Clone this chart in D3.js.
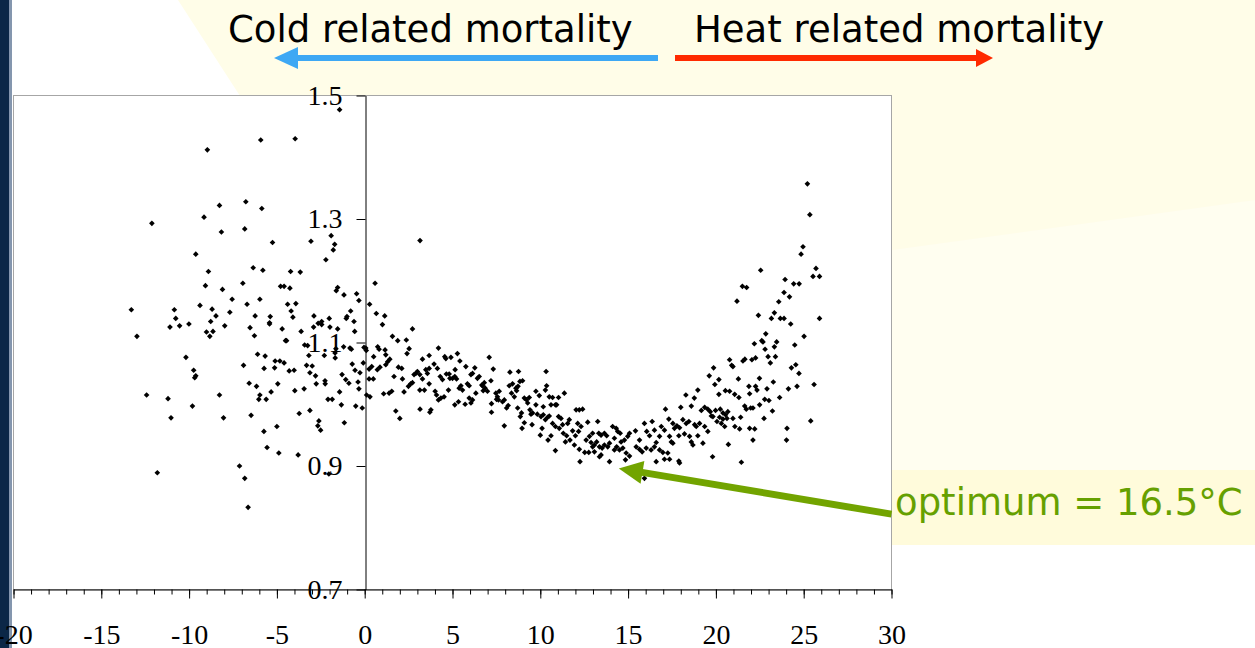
<!DOCTYPE html>
<html>
<head>
<meta charset="utf-8">
<script src="https://cdn.jsdelivr.net/npm/d3@7"></script>
<style>
  html, body { margin: 0; padding: 0; background: #fff; overflow: hidden; }
  svg { display: block; }
</style>
</head>
<body>
<div id="chart"></div>
<script>
// daily temperature (°C) vs relative mortality
const coldDays = [
  [-1.43,1.477],[-8.96,1.412],[-5.92,1.428],[-3.96,1.430],[-8.27,1.322],[-6.77,1.328],[-5.86,1.317],[-9.15,1.303],
  [-12.12,1.293],[-8.16,1.279],[-6.83,1.284],[-5.25,1.262],[-3.06,1.264],[-1.91,1.273],[-1.71,1.259],[-1.79,1.250],
  [-2.21,1.234],[-9.62,1.243],[-8.90,1.215],[-9.07,1.192],[-8.10,1.186],[-7.55,1.170],[-6.94,1.196],[-6.35,1.221],
  [-5.80,1.217],[-4.22,1.215],[-3.67,1.214],[-4.79,1.191],[-4.59,1.191],[-4.26,1.188],[-1.54,1.189],[-1.62,1.184],
  [-1.18,1.177],[-0.46,1.179],[-0.33,1.168],[-13.29,1.153],[-12.97,1.110],[-10.84,1.153],[-10.76,1.139],[-11.09,1.125],
  [-10.54,1.127],[-10.01,1.130],[-9.38,1.160],[-8.69,1.154],[-8.47,1.143],[-8.77,1.134],[-9.01,1.117],[-8.82,1.110],
  [-8.64,1.118],[-7.97,1.127],[-7.68,1.149],[-6.70,1.162],[-5.97,1.170],[-6.24,1.143],[-6.53,1.124],[-6.28,1.111],
  [-5.38,1.142],[-5.42,1.132],[-5.42,1.130],[-4.39,1.162],[-3.92,1.163],[-4.19,1.151],[-4.09,1.141],[-4.70,1.122],
  [-4.51,1.103],[-4.45,1.103],[-3.62,1.118],[-3.42,1.096],[-2.89,1.143],[-2.91,1.125],[-2.65,1.131],[-2.45,1.134],
  [-2.45,1.129],[-2.02,1.139],[-1.98,1.125],[-1.54,1.122],[-1.05,1.139],[-1.01,1.142],[-0.80,1.151],[-0.61,1.134],
  [-0.57,1.118],[-0.84,1.091],[-0.76,1.089],[-1.20,1.093],[-1.64,1.090],[-1.69,1.083],[-1.68,1.075],[-2.30,1.079],
  [-3.18,1.079],[-3.25,1.095],[-3.31,1.063],[-2.99,1.062],[-3.12,1.051],[-2.80,1.046],[-2.76,1.033],[-2.26,1.038],
  [-2.25,1.033],[-3.45,1.025],[-3.98,1.022],[-4.30,1.054],[-4.02,1.055],[-4.59,1.067],[-5.10,1.070],[-4.83,1.070],
  [-5.13,1.059],[-5.67,1.078],[-5.73,1.058],[-6.10,1.081],[-6.90,1.063],[-6.58,1.034],[-6.16,1.029],[-5.97,1.015],
  [-6.03,1.008],[-5.61,1.008],[-5.33,1.020],[-4.95,1.033],[-10.18,1.076],[-9.74,1.055],[-9.62,1.046],[-9.68,1.043],
  [-12.42,1.015],[-11.20,1.009],[-11.03,0.978],[-9.81,0.997],[-8.27,1.015],[-8.04,0.978],[-6.47,0.982],[-5.00,0.964],
  [-5.74,0.956],[-5.56,0.930],[-4.89,0.921],[-3.79,0.918],[-3.73,0.985],[-3.12,0.990],[-2.61,0.973],[-2.67,0.965],
  [-2.51,0.958],[-2.09,1.008],[-1.85,1.008],[-1.33,0.999],[-1.16,0.970],[-1.43,1.020],[-0.51,0.997],[-0.14,0.994],
  [-2.04,0.887],[-7.13,0.900],[-6.83,0.880],[-6.64,0.833],[-11.81,0.889],[-1.29,1.048],[-1.08,1.040],[-0.90,1.034],
  [-0.71,1.065],[-0.55,1.055],[-0.27,1.051],[-0.38,1.036],[-0.33,1.025],[-0.08,1.067],[-0.04,1.092]
];

const mildDays = [
  [0.59,1.196],[0.28,1.162],[0.66,1.147],[1.14,1.143],[1.01,1.129],[1.58,1.110],[1.88,1.103],[2.37,1.104],
  [2.72,1.122],[2.53,1.090],[2.41,1.082],[1.16,1.088],[1.20,1.080],[0.74,1.093],[0.82,1.089],[0.51,1.077],
  [0.06,1.091],[0.09,1.087],[0.25,1.057],[0.40,1.061],[0.72,1.056],[0.87,1.060],[1.31,1.069],[1.43,1.073],
  [1.20,1.064],[0.25,1.041],[0.49,1.041],[0.11,1.015],[0.30,1.012],[1.08,1.017],[1.39,1.018],[1.54,1.021],
  [1.77,0.989],[2.00,0.977],[1.67,1.045],[1.92,1.060],[2.11,1.058],[2.15,1.041],[2.24,1.020],[2.49,1.029],
  [2.62,1.033],[2.72,1.035],[2.81,1.048],[3.00,1.053],[2.91,1.050],[3.29,1.073],[3.48,1.056],[3.57,1.050],
  [3.67,1.058],[3.14,1.048],[3.29,1.041],[3.14,1.023],[3.40,1.023],[3.67,1.033],[3.67,1.079],[3.15,0.992],
  [3.71,0.987],[3.77,0.991],[3.95,1.065],[4.14,1.058],[4.20,1.091],[4.30,1.045],[4.43,1.040],[4.01,1.021],
  [4.09,1.015],[4.20,1.007],[4.34,1.010],[4.52,1.012],[4.56,1.077],[4.62,1.074],[4.91,1.076],[4.77,1.023],
  [4.65,1.049],[4.85,1.042],[4.81,1.049],[5.13,1.045],[5.00,1.042],[5.23,1.041],[5.28,1.082],[5.15,1.056],
  [5.42,1.070],[5.38,1.026],[5.48,1.030],[5.57,1.023],[5.76,1.061],[5.85,1.033],[5.95,1.030],[6.05,1.048],
  [6.14,1.050],[5.13,0.999],[5.34,1.004],[5.72,1.000],[5.95,1.010],[6.14,1.007],[6.05,1.002],[6.27,1.059],
  [6.42,1.042],[6.52,1.045],[6.33,1.018],[6.71,1.030],[6.81,1.035],[6.86,1.026],[6.75,1.022],[6.67,1.031],
  [6.99,1.021],[7.19,1.038],[7.09,1.076],[7.32,1.057],[7.22,1.001],[7.22,0.987],[7.47,1.018],[7.56,1.012],
  [7.66,1.021],[7.62,1.007],[7.51,1.008],[7.95,1.007],[7.85,1.004],[7.95,0.965],[8.08,0.994],[8.17,0.998],
  [8.27,1.052],[8.76,1.053],[8.23,1.030],[8.42,1.033],[8.36,1.018],[8.52,1.012],[8.61,1.026],[8.65,1.022],
  [8.73,1.029],[8.84,1.037],[8.99,1.038],[8.71,0.994],[8.86,0.980],[8.93,0.986],[8.96,0.961],[9.09,0.970],
  [9.09,1.010],[9.22,1.007],[9.37,1.011],[9.28,1.002],[9.41,0.991],[9.56,0.986],[9.47,0.984],[9.53,0.967],
  [9.75,0.999],[9.75,1.021],[9.94,1.014],[10.04,0.980],[10.17,0.983],[10.29,0.975],[10.42,0.979],[9.83,0.984],
  [10.00,0.950],[10.10,0.961],[10.17,0.996],[10.33,1.053],[10.36,1.030],[10.29,1.023],[10.51,1.012],[10.70,1.011],
  [11.04,1.011],[10.61,0.999],[10.86,0.999],[10.93,0.999],[10.51,0.981],[10.70,0.969],[10.86,0.964],[10.44,0.942],
  [10.61,0.949],[10.86,0.925],[11.04,0.980],[11.18,0.977],[11.08,0.961],[11.27,0.967],[11.31,0.953],[11.37,1.018],
  [11.56,0.969],[11.65,0.975],[11.50,0.949],[11.69,0.942],[11.43,0.939],[11.84,0.957],[12.00,0.949],[12.04,0.991],
  [12.22,0.991],[12.41,0.992],[12.13,0.969],[12.32,0.964],[12.18,0.956],[11.94,0.934],[12.22,0.927],[12.26,0.907],
  [12.53,0.922],[12.76,0.922],[12.61,0.942],[12.80,0.948],[12.98,0.953],[12.70,0.971],[12.89,0.938],[13.08,0.934],
  [13.21,0.939],[12.98,0.931],[13.27,0.972],[13.33,0.953],[13.46,0.950],[13.65,0.953],[13.78,0.949],[13.37,0.931],
  [13.52,0.929],[13.65,0.934],[13.84,0.931],[13.94,0.937],[13.08,0.923],[13.37,0.915],[13.46,0.918],[13.94,0.907],
  [14.22,0.945],[14.32,0.961],[14.41,0.956],[14.55,0.953],[14.12,0.964],[14.22,0.926],[14.35,0.931],[14.51,0.926],
  [14.70,0.929],[14.60,0.939],[14.79,0.942],[14.98,0.948],[15.08,0.953],[14.89,0.921],[14.85,0.910],[15.08,0.916],
  [15.42,0.957],[15.65,0.942],[15.93,0.969],[16.06,0.956],[16.22,0.949],[15.46,0.931],[15.65,0.927],[15.80,0.923],
  [16.03,0.929],[16.31,0.926],[16.50,0.931],[16.60,0.938],[16.37,0.972],[16.50,0.958],[16.60,0.907],[15.93,0.880],
  [3.15,1.265]
];

const warmDays = [
  [25.21,1.357],[25.35,1.307],[24.96,1.255],[24.85,1.243],[25.70,1.220],[25.53,1.207],[25.90,1.207],[25.90,1.139],
  [22.55,1.217],[21.51,1.191],[21.75,1.189],[21.20,1.167],[23.94,1.202],[24.43,1.195],[24.74,1.195],[23.88,1.181],
  [24.19,1.174],[23.58,1.166],[23.33,1.148],[23.16,1.139],[23.67,1.139],[23.88,1.139],[24.26,1.130],[22.42,1.144],
  [22.84,1.114],[22.61,1.103],[22.68,1.101],[22.19,1.098],[23.46,1.101],[23.33,1.093],[22.80,1.089],[25.02,1.110],
  [24.49,1.096],[22.97,1.077],[23.10,1.067],[23.39,1.077],[22.26,1.075],[22.05,1.072],[21.65,1.073],[21.54,1.070],
  [20.90,1.063],[20.78,1.072],[20.97,1.061],[19.87,1.059],[24.30,1.059],[24.55,1.064],[24.73,1.050],[20.17,1.040],
  [19.62,1.046],[19.94,1.032],[21.28,1.041],[22.48,1.042],[23.27,1.036],[24.62,1.029],[24.13,1.025],[25.59,1.032],
  [21.88,1.029],[22.26,1.029],[22.34,1.023],[22.91,1.025],[18.97,1.023],[20.54,1.022],[20.78,1.021],[21.07,1.016],
  [21.31,1.011],[20.17,1.016],[21.92,1.017],[22.49,0.999],[22.11,0.994],[22.78,1.008],[23.02,1.006],[23.63,1.011],
  [23.22,0.989],[22.74,0.977],[18.77,1.010],[18.29,1.015],[18.60,0.997],[18.00,0.995],[19.17,0.990],[19.36,0.995],
  [19.54,0.992],[19.68,0.988],[19.98,0.990],[20.25,0.992],[20.40,0.986],[20.55,0.983],[20.68,0.988],[19.74,0.981],
  [19.83,0.980],[20.21,0.979],[20.40,0.976],[20.63,0.977],[20.06,0.972],[20.31,0.969],[20.50,0.964],[21.08,0.964],
  [21.35,0.960],[20.97,0.977],[21.41,0.979],[21.64,0.997],[21.73,0.992],[21.98,0.994],[21.92,0.961],[22.21,0.960],
  [22.11,0.942],[24.05,0.961],[24.02,0.942],[25.40,0.973],[20.71,0.935],[21.45,0.906],[19.81,0.915],[17.13,0.992],
  [17.32,0.976],[17.55,0.969],[17.64,0.961],[17.78,0.965],[17.93,0.962],[18.12,0.975],[18.31,0.969],[18.46,0.972],
  [18.79,0.967],[18.88,0.964],[19.07,0.969],[19.36,0.964],[17.36,0.948],[17.46,0.939],[17.55,0.937],[17.89,0.949],
  [18.21,0.952],[18.50,0.948],[18.60,0.939],[18.69,0.934],[18.97,0.949],[19.26,0.937],[19.54,0.956],[17.07,0.911],
  [17.36,0.911],[17.89,0.908],[17.93,0.905],[16.79,0.926],[16.98,0.922],[17.26,0.921],[16.89,0.964],[17.07,0.958],
  [16.79,0.948]
];

const xMajorTicks = [-20, -15, -10, -5, 0, 5, 10, 15, 20, 25, 30];
const yTicks = [0.7, 0.9, 1.1, 1.3, 1.5];
const coldLabel = 'Cold related mortality';
const heatLabel = 'Heat related mortality';
const optimumLabel = 'optimum = 16.5°C';
// where the green arrow starts (right edge of plot) and where it points
const optimumArrow = [[30, 0.822], [14.47, 0.896]];

const W = 1255, H = 648;
const svg = d3.select('#chart').append('svg')
  .attr('width', W)
  .attr('height', H);

// **slide background** (pale yellow beams)
const bg = svg.append('g');
bg.append('rect').attr('width', W).attr('height', H).attr('fill', '#ffffff');
bg.append('path')
  .attr('d', 'M178,0 L1255,0 L1255,470 L892,470 L892,96 L240,96 Z')
  .attr('fill', '#fffde8');
bg.append('path')
  .attr('d', 'M892,250 L1255,200 L1255,470 L892,470 Z')
  .attr('fill', '#ffffff').attr('opacity', 0.35);
bg.append('rect').attr('x', 892).attr('y', 470).attr('width', W - 892).attr('height', 75)
  .attr('fill', '#fffbdb');
bg.append('rect').attr('x', 0).attr('y', 0).attr('width', 9).attr('height', H).attr('fill', '#0b2747');
bg.append('rect').attr('x', 9).attr('y', 0).attr('width', 3).attr('height', H).attr('fill', '#8496ae');

// **scales**
const x = d3.scaleLinear().domain([-20, 30]).range([13.5, 891.5]);
const y = d3.scaleLinear().domain([0.7, 1.5]).range([589.5, 95.5]);
const x0 = Math.round(x(0)) + 0.5;

// plot area
svg.append('rect')
  .attr('x', x.range()[0]).attr('y', y.range()[1])
  .attr('width', x.range()[1] - x.range()[0])
  .attr('height', y.range()[0] - y.range()[1])
  .attr('fill', '#ffffff')
  .attr('stroke', '#a6a6a6')
  .attr('stroke-width', 1);

// **axes**
const axisFont = '"Liberation Serif", "Times New Roman", serif';

svg.append('g')
  .attr('transform', `translate(0,${y(0.7)})`)
  .call(d3.axisBottom(x).tickValues(d3.range(-20, 31, 1)).tickSize(5).tickSizeOuter(0).tickFormat(''))
  .call(g => g.select('.domain').remove())
  .call(g => g.selectAll('line').attr('stroke', '#000'));

const xAxis = svg.append('g')
  .attr('transform', `translate(0,${y(0.7)})`)
  .call(d3.axisBottom(x).tickValues(xMajorTicks).tickSize(9).tickSizeOuter(0).tickPadding(26).tickFormat(d => String(d)));
xAxis.select('.domain').attr('stroke', '#000');
xAxis.selectAll('line').attr('stroke', '#000');
xAxis.selectAll('text')
  .attr('fill', '#000')
  .style('font-family', axisFont)
  .style('font-size', '28px');

const yAxis = svg.append('g')
  .attr('transform', `translate(${x0},0)`)
  .call(d3.axisLeft(y).tickValues(yTicks).tickSize(9).tickSizeOuter(0).tickPadding(14).tickFormat(d3.format('.1f')));
yAxis.select('.domain').attr('stroke', '#000');
yAxis.selectAll('line').attr('stroke', '#000');
yAxis.selectAll('text')
  .attr('fill', '#000')
  .style('font-family', axisFont)
  .style('font-size', '28px');

// **points**
const diamond = d3.symbol().type(d3.symbolSquare).size(16);
svg.append('g')
  .selectAll('path')
  .data([...coldDays, ...mildDays, ...warmDays])
  .enter().append('path')
  .attr('d', diamond)
  .attr('transform', d => `translate(${x(d[0])},${y(d[1])}) rotate(45)`)
  .attr('fill', '#000');

// **titles with arrows**
const titleFont = '"DejaVu Sans", Verdana, sans-serif';
svg.append('text')
  .attr('x', 228).attr('y', 42)
  .style('font-family', titleFont).style('font-size', '37px')
  .attr('fill', '#000')
  .text(coldLabel);
svg.append('text')
  .attr('x', 694).attr('y', 42)
  .style('font-family', titleFont).style('font-size', '37px')
  .attr('fill', '#000')
  .text(heatLabel);

// cold arrow (points left)
svg.append('rect').attr('x', 296).attr('y', 55).attr('width', 362).attr('height', 6).attr('fill', '#3ea8f4');
svg.append('path').attr('d', 'M274,58 L298,47 L298,69 Z').attr('fill', '#3ea8f4');
// heat arrow (points right)
svg.append('rect').attr('x', 675).attr('y', 55).attr('width', 303).attr('height', 6).attr('fill', '#ff2a00');
svg.append('path').attr('d', 'M993,58 L976,49 L976,67 Z').attr('fill', '#ff2a00');

// **optimum annotation**
const green = '#72a400';
const [p0, p1] = optimumArrow.map(d => [x(d[0]), y(d[1])]);
const ang = Math.atan2(p1[1] - p0[1], p1[0] - p0[0]);
const headLen = 24, headHalf = 11.5;
const base = [p1[0] - headLen * Math.cos(ang), p1[1] - headLen * Math.sin(ang)];
svg.append('line')
  .attr('x1', p0[0]).attr('y1', p0[1])
  .attr('x2', base[0] + 2 * Math.cos(ang)).attr('y2', base[1] + 2 * Math.sin(ang))
  .attr('stroke', green).attr('stroke-width', 7);
svg.append('path')
  .attr('d', `M${p1[0]},${p1[1]}` +
    `L${base[0] - headHalf * Math.sin(ang)},${base[1] + headHalf * Math.cos(ang)}` +
    `L${base[0] + headHalf * Math.sin(ang)},${base[1] - headHalf * Math.cos(ang)}Z`)
  .attr('fill', green);

svg.append('text')
  .attr('x', 895).attr('y', 515)
  .style('font-family', titleFont).style('font-size', '37px')
  .attr('fill', '#66a000')
  .text(optimumLabel);
</script>
</body>
</html>
